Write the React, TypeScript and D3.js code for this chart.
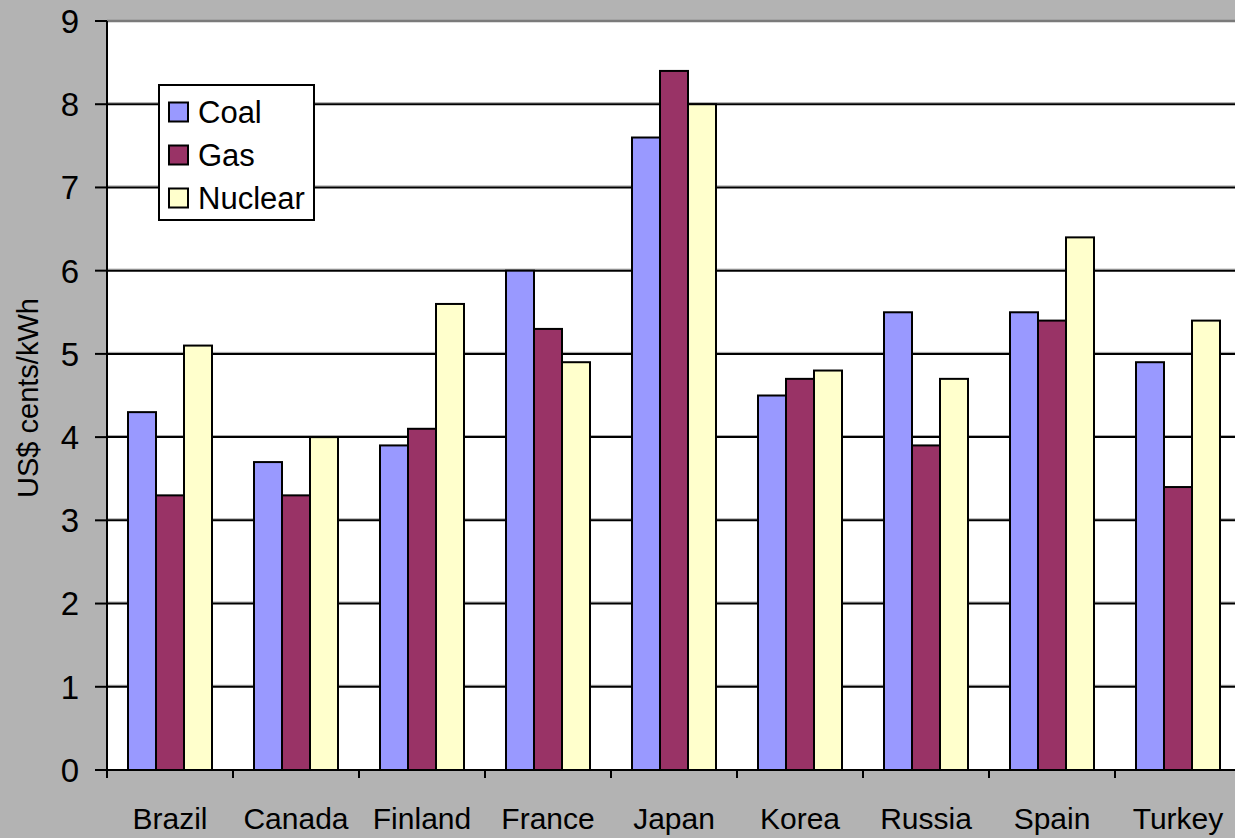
import React from "react";
import * as d3 from "d3";

// Generation cost by country and fuel (US$ cents/kWh)
const countries = ["Brazil", "Canada", "Finland", "France", "Japan", "Korea", "Russia", "Spain", "Turkey"];
const seriesNames = ["Coal", "Gas", "Nuclear"];
const coal = [4.3, 3.7, 3.9, 6.0, 7.6, 4.5, 5.5, 5.5, 4.9];
const gas = [3.3, 3.3, 4.1, 5.3, 8.4, 4.7, 3.9, 5.4, 3.4];
const nuclear = [5.1, 4.0, 5.6, 4.9, 8.0, 4.8, 4.7, 6.4, 5.4];
const yTicks = [0, 1, 2, 3, 4, 5, 6, 7, 8, 9];
const seriesColors = ["#9999ff", "#993366", "#ffffcc"];

const W = 1235;
const H = 838;
const FONT = "'Liberation Sans', Arial, sans-serif";

export default function App() {
  const left = 107;
  const top = 21;
  const bottom = 770;
  const band = 126;
  const right = left + band * countries.length;

  const x = d3.scaleBand<string>().domain(countries).range([left, right]).paddingInner(0).paddingOuter(0);
  const gap = band * 1.5 / 4.5; // Excel-style 150% gap width
  const xs = d3.scaleBand<string>().domain(seriesNames).range([gap / 2, band - gap / 2]).padding(0);
  const y = d3.scaleLinear().domain([0, 9]).range([bottom, top]);

  const values = [coal, gas, nuclear];

  return (
    <svg width={W} height={H} style={{ position: "fixed", left: 0, top: 0 }} fontFamily={FONT}>
      <rect x={0} y={0} width={W} height={H} fill="#b3b3b3" />
      {/* plot area */}
      <rect x={left} y={top} width={right - left} height={bottom - top} fill="#ffffff" />
      <line x1={left} x2={right} y1={top} y2={top} stroke="#7a7a7a" strokeWidth={2.5} />

      {/* gridlines */}
      {yTicks.filter((t) => t > 0 && t < 9).map((t) => (
        <g key={"g" + t}>
          <line x1={left} x2={right} y1={y(t) - 1.5} y2={y(t) - 1.5} stroke="#a0a0a0" strokeWidth={1} />
          <line x1={left} x2={right} y1={y(t)} y2={y(t)} stroke="#000" strokeWidth={2} />
        </g>
      ))}

      {/* bars */}
      {countries.map((c, i) => (
        <g key={c} transform={`translate(${x(c)},0)`}>
          {seriesNames.map((s, j) => (
            <rect
              key={s}
              x={xs(s)}
              y={y(values[j][i])}
              width={xs.bandwidth()}
              height={y(0) - y(values[j][i])}
              fill={seriesColors[j]}
              stroke="#000"
              strokeWidth={2}
            />
          ))}
        </g>
      ))}

      {/* axes */}
      <line x1={left} x2={left} y1={top} y2={bottom} stroke="#000" strokeWidth={2} />
      <line x1={left - 12} x2={right} y1={bottom} y2={bottom} stroke="#000" strokeWidth={2} />
      {yTicks.map((t) => (
        <g key={"t" + t}>
          <line x1={left - 12} x2={left} y1={y(t)} y2={y(t)} stroke="#000" strokeWidth={2} />
          <text x={79} y={y(t)} dy="0.36em" textAnchor="end" fontSize={33} fill="#000">
            {t}
          </text>
        </g>
      ))}
      {d3.range(countries.length + 1).map((k) => (
        <line key={"xt" + k} x1={left + k * band} x2={left + k * band} y1={bottom} y2={bottom + 8} stroke="#000" strokeWidth={2} />
      ))}
      {countries.map((c) => (
        <text key={"l" + c} x={(x(c) as number) + band / 2} y={829} textAnchor="middle" fontSize={30} fill="#000">
          {c}
        </text>
      ))}

      <text transform={`translate(38,${398}) rotate(-90)`} textAnchor="middle" fontSize={29} fill="#000">
        US$ cents/kWh
      </text>

      {/* legend */}
      <rect x={159} y={85} width={155} height={135} fill="#ffffff" stroke="#000" strokeWidth={2} />
      {seriesNames.map((s, j) => (
        <g key={"lg" + s} transform={`translate(0,${112 + j * 43})`}>
          <rect x={169} y={-9.5} width={19} height={19} fill={seriesColors[j]} stroke="#000" strokeWidth={2} />
          <text x={198} y={0} dy="0.36em" fontSize={31} fill="#000">
            {s}
          </text>
        </g>
      ))}
    </svg>
  );
}
